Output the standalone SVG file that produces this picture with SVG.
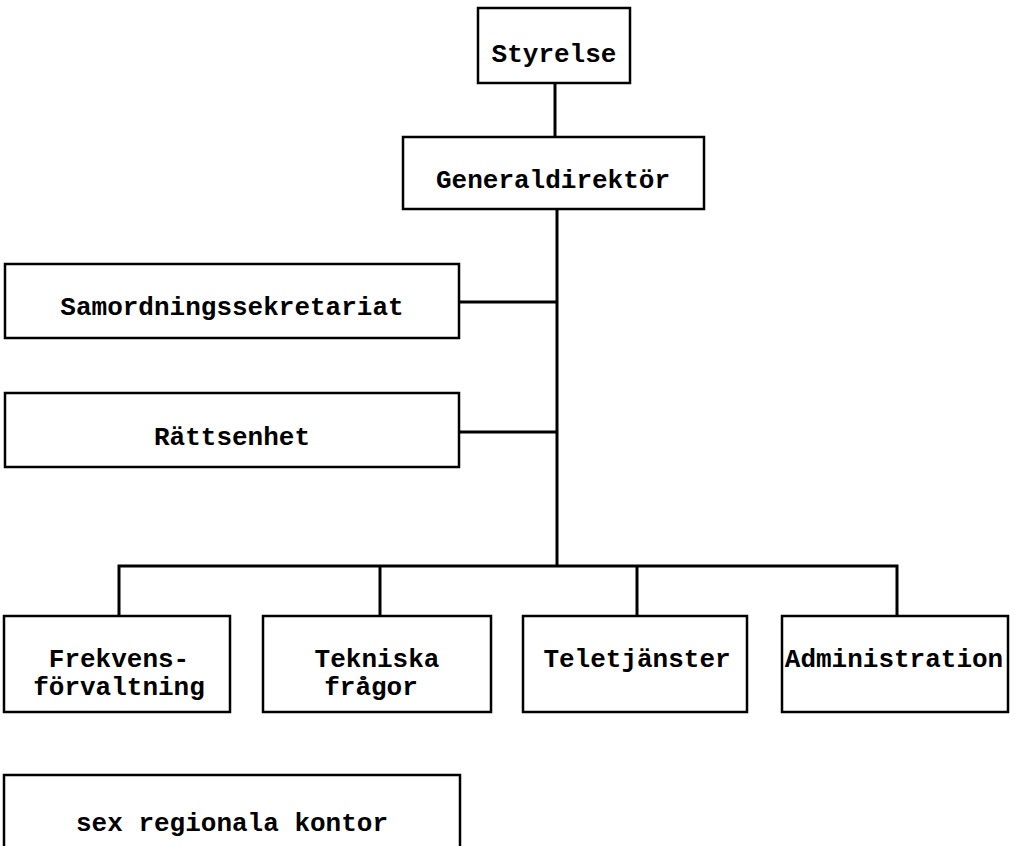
<svg xmlns="http://www.w3.org/2000/svg" width="1014" height="846" viewBox="0 0 1014 846">
<style>
.box{fill:#fff;stroke:#000;stroke-width:2.5}
.lbl{font-family:"Liberation Mono","Courier New",monospace;font-weight:bold;font-size:26px;fill:#000;text-anchor:middle}
.con{fill:none;stroke:#000;stroke-width:3}
</style>
<rect width="1014" height="846" fill="#fff"/>
<g id="connectors">
<line class="con" x1="555" y1="83" x2="555" y2="137"/>
<line class="con" x1="557" y1="209" x2="557" y2="566"/>
<line class="con" x1="459" y1="302" x2="557" y2="302"/>
<line class="con" x1="459" y1="432" x2="557" y2="432"/>
<polyline class="con" points="119,616 119,566 897,566 897,616"/>
<line class="con" x1="380" y1="566" x2="380" y2="616"/>
<line class="con" x1="637" y1="566" x2="637" y2="616"/>
</g>
<g id="styrelse">
<rect class="box" x="478" y="8" width="152" height="75"/>
<text class="lbl" x="554" y="62">Styrelse</text>
</g>
<g id="generaldirektor">
<rect class="box" x="403" y="137" width="301" height="72"/>
<text class="lbl" x="553" y="188">Generaldirektör</text>
</g>
<g id="samordningssekretariat">
<rect class="box" x="5" y="264" width="454" height="74"/>
<text class="lbl" x="232" y="315">Samordningssekretariat</text>
</g>
<g id="rattsenhet">
<rect class="box" x="5" y="393" width="454" height="74"/>
<text class="lbl" x="232" y="445">Rättsenhet</text>
</g>
<g id="frekvensforvaltning">
<rect class="box" x="4" y="616" width="226" height="96"/>
<text class="lbl" x="119" y="667">Frekvens-</text>
<text class="lbl" x="119" y="695">förvaltning</text>
</g>
<g id="tekniska">
<rect class="box" x="263" y="616" width="228" height="96"/>
<text class="lbl" x="377" y="667">Tekniska</text>
<text class="lbl" x="371" y="695">frågor</text>
</g>
<g id="teletjanster">
<rect class="box" x="523" y="616" width="224" height="96"/>
<text class="lbl" x="637" y="667">Teletjänster</text>
</g>
<g id="administration">
<rect class="box" x="782" y="616" width="226" height="96"/>
<text class="lbl" x="894" y="667">Administration</text>
</g>
<g id="regionala">
<rect class="box" x="4" y="775" width="456" height="90"/>
<text class="lbl" x="232" y="831">sex regionala kontor</text>
</g>
</svg>
